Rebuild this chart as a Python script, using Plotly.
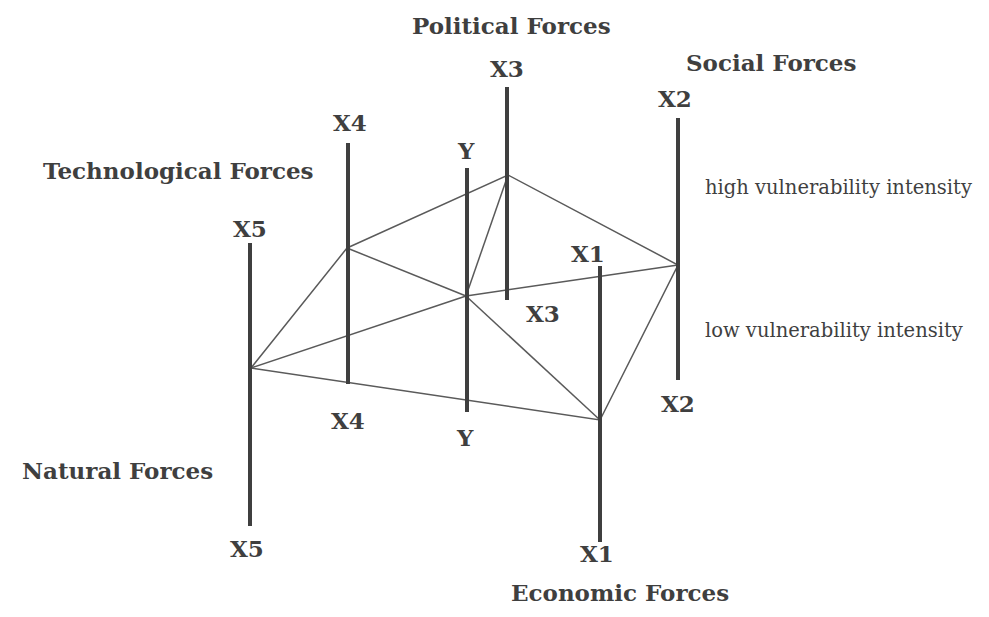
import plotly.graph_objects as go

# Diagram coordinates (x across, y down)
axis_names = ["X1", "X2", "X3", "X4", "X5", "Y"]
axis_x = [600, 678, 507, 348, 250, 467]
axis_top = [266, 118, 87, 143, 243, 168]
axis_bottom = [542, 380, 300, 384, 526, 412]

# vulnerability-intensity node on each axis
node_names = ["X1", "X2", "X3", "X4", "X5"]
node_x = [600, 678, 508, 347, 251]
node_y = [420, 265, 175, 248, 368]
center_x = 466
center_y = 296

# labels
top_label_y = [253, 98, 68, 122, 228, 150]
top_label_dx = [-12, -3, 0, 2, 0, -1]
bottom_label_y = [553, 403, 313, 420, 548, 437]
bottom_label_dx = [-3, 0, 36, 0, -3, -2]

force_names = ["Economic Forces", "Social Forces", "Political Forces",
               "Technological Forces", "Natural Forces"]
force_x = [620, 771, 511, 178, 117]
force_y = [592, 62, 25, 170, 470]

intensity_texts = ["high vulnerability intensity", "low vulnerability intensity"]
intensity_x = [703, 703]
intensity_y = [187, 330]

DARK = "#3f3f3f"
THIN = "#5a5a5a"
FONT = "DejaVu Serif"

# page offset of the plot div (body margin) so diagram coords equal page pixels
OFF = 8
W, H = 989, 617

fig = go.Figure()

# thin polygon edges (pentagon)
order = [3, 2, 1, 0, 4, 3]  # X4 -> X3 -> X2 -> X1 -> X5 -> X4
fig.add_trace(go.Scatter(
    x=[node_x[i] for i in order], y=[node_y[i] for i in order],
    mode="lines", line=dict(color=THIN, width=1.5), hoverinfo="skip", showlegend=False))

# spokes from center (Y) to each node
for nx, ny in zip(node_x, node_y):
    fig.add_trace(go.Scatter(
        x=[center_x, nx], y=[center_y, ny], mode="lines",
        line=dict(color=THIN, width=1.5), hoverinfo="skip", showlegend=False))

# thick vertical axes
for name, ax, t, b in zip(axis_names, axis_x, axis_top, axis_bottom):
    fig.add_trace(go.Scatter(
        x=[ax, ax], y=[t, b], mode="lines",
        line=dict(color=DARK, width=4), name=name, hoverinfo="skip", showlegend=False))

annotations = []
for name, ax, ty, tdx, by, bdx in zip(axis_names, axis_x, top_label_y, top_label_dx,
                                       bottom_label_y, bottom_label_dx):
    annotations.append(dict(x=ax + tdx, y=ty, text="<b>" + name + "</b>", showarrow=False,
                            xanchor="center", yanchor="middle",
                            font=dict(family=FONT, size=23, color=DARK)))
    annotations.append(dict(x=ax + bdx, y=by, text="<b>" + name + "</b>", showarrow=False,
                            xanchor="center", yanchor="middle",
                            font=dict(family=FONT, size=23, color=DARK)))

for t, fx, fy in zip(force_names, force_x, force_y):
    annotations.append(dict(x=fx, y=fy, text="<b>" + t + "</b>", showarrow=False,
                            xanchor="center", yanchor="middle",
                            font=dict(family=FONT, size=23, color=DARK)))

for t, ix, iy in zip(intensity_texts, intensity_x, intensity_y):
    annotations.append(dict(x=ix, y=iy, text=t, showarrow=False,
                            xanchor="left", yanchor="middle",
                            font=dict(family=FONT, size=19.5, color=DARK)))

fig.update_layout(
    width=W - 2 * OFF, height=H - 2 * OFF,
    margin=dict(l=0, r=0, t=0, b=0),
    paper_bgcolor="white", plot_bgcolor="white",
    xaxis=dict(range=[OFF, W - OFF], visible=False, fixedrange=True),
    yaxis=dict(range=[H - OFF, OFF], visible=False, fixedrange=True),
    annotations=annotations,
    showlegend=False,
)

fig.write_html("out.html")
